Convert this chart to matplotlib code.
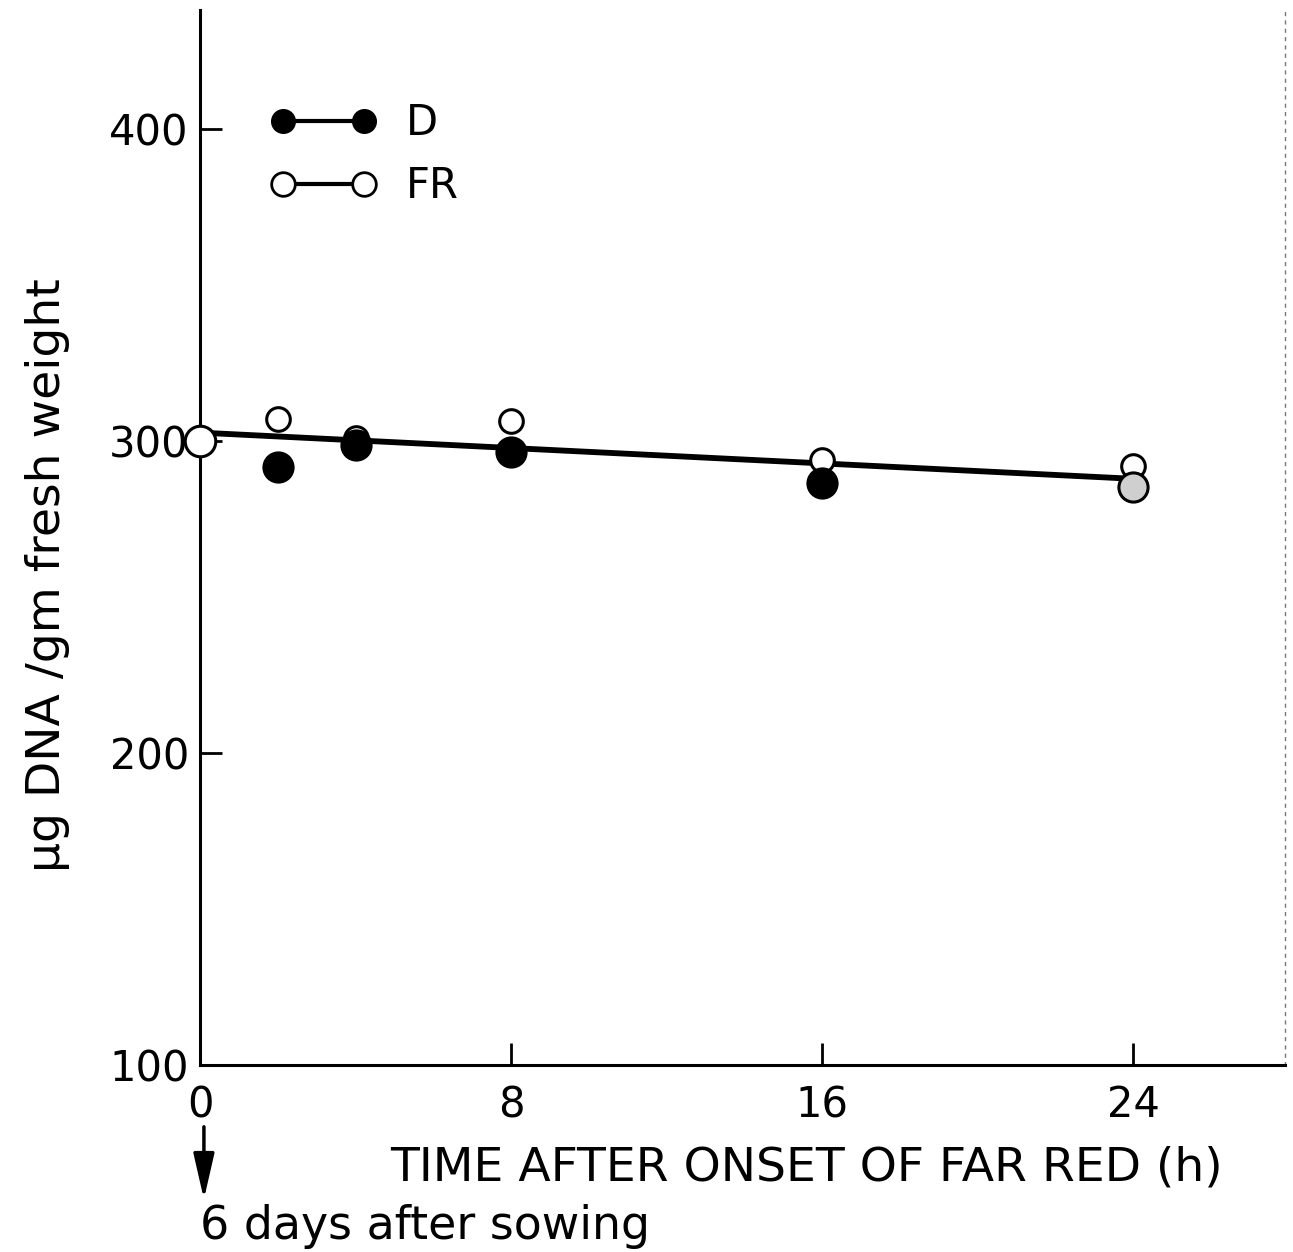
import numpy as np
import matplotlib.pyplot as plt
import matplotlib.transforms as mtransforms
from matplotlib.lines import Line2D

# hours after onset of far red
fr_time = [0, 2, 4, 8, 16, 24]
fr_dna = [300.0, 307.0, 301.0, 306.3, 293.7, 291.8]

d_time = [2, 4, 8, 16, 24]
d_dna = [291.5, 298.6, 296.5, 286.4, 285.1]

trend_time = [0, 24]
trend_dna = [302.6, 287.8]

x_ticks = [0, 8, 16, 24]
y_ticks = [100, 200, 300, 400]

plt.rcParams['font.family'] = ['DejaVu Sans']

fig = plt.figure(figsize=(12.93, 12.52), dpi=100)
ax = fig.add_axes([0.1547, 0.1494, 0.8391, 0.8426])

ax.plot(trend_time, trend_dna, color='black', linewidth=4.2, zorder=2)

# open circles: far red
fr_sizes = np.full(len(fr_time), 17.0)
fr_sizes[0] = 22.0
for t, v, ms in zip(fr_time, fr_dna, fr_sizes):
    ax.plot(t, v, 'o', markersize=ms, markerfacecolor='white',
            markeredgecolor='black', markeredgewidth=2.2, zorder=3, clip_on=False)

# filled circles: dark
d_face = ['black'] * len(d_time)
d_face[-1] = '#cfcfcf'
for t, v, fc in zip(d_time, d_dna, d_face):
    ax.plot(t, v, 'o', markersize=21, markerfacecolor=fc,
            markeredgecolor='black', markeredgewidth=2.2, zorder=4)

ax.set_xlim(0, 27.9)
ax.set_ylim(100, 438)
ax.set_xticks(x_ticks)
ax.set_yticks(y_ticks)
ax.tick_params(direction='in', length=16, width=2, labelsize=30, pad=8)
ax.tick_params(axis='x', pad=14)

for side in ['left', 'bottom']:
    ax.spines[side].set_linewidth(2.2)
ax.spines['top'].set_visible(False)
ax.spines['right'].set_linestyle((0, (2, 4)))
ax.spines['right'].set_linewidth(1)
ax.spines['right'].set_color('#777777')

ax.set_ylabel('μg DNA /gm fresh weight', fontsize=34)
ax.yaxis.set_label_coords(-0.12, 0.464)

trans = mtransforms.blended_transform_factory(ax.transData, ax.transAxes)
ax.text(15.6, -0.098, 'TIME AFTER ONSET OF FAR RED (h)', transform=trans,
        fontsize=34, ha='center', va='center')

ax.annotate('', xy=(0.1, -0.13), xytext=(0.1, -0.056), xycoords=trans,
            textcoords=trans,
            arrowprops=dict(arrowstyle='-|>,head_length=0.7,head_width=0.16',
                            color='black', lw=2.5, mutation_scale=40))
ax.text(0.0, -0.153, '6 days after sowing', transform=trans,
        fontsize=33, ha='left', va='center')

handles = [
    Line2D([], [], color='black', linewidth=3, marker='o', markersize=17,
           markerfacecolor='black', markeredgecolor='black'),
    Line2D([], [], color='black', linewidth=3, marker='o', markersize=17,
           markerfacecolor='white', markeredgecolor='black', markeredgewidth=2),
]
ax.legend(handles, ['D', 'FR'], numpoints=2, frameon=False, fontsize=30,
          handlelength=2.55, handletextpad=0.7, labelspacing=0.5,
          loc='upper left', bbox_to_anchor=(0.03, 0.948))

fig.savefig('out.png', dpi=100)
